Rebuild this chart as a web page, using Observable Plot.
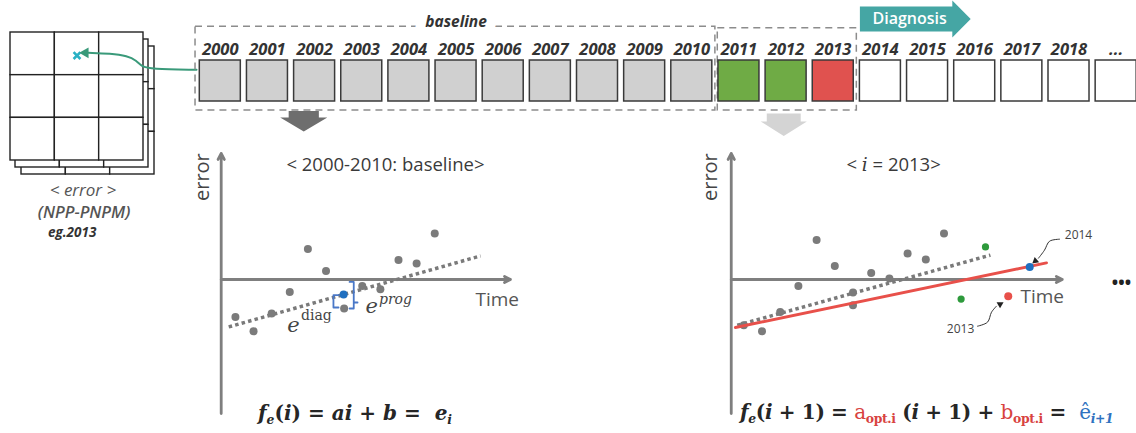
<!DOCTYPE html>
<html><head><meta charset="utf-8">
<script src="https://cdn.jsdelivr.net/npm/d3@7"></script>
<script src="https://cdn.jsdelivr.net/npm/@observablehq/plot@0.6"></script>
<style>
html,body{margin:0;padding:0;background:#fff;}
#wrap{position:relative;width:1136px;height:433px;overflow:hidden;font-family:"Open Sans",sans-serif;background:#fff;}
#wrap svg{position:absolute;left:0;top:0;}
.formula{position:absolute;font-family:"DejaVu Serif",serif;font-size:20px;line-height:22px;white-space:nowrap;color:#262626;font-weight:bold;}
.formula sub{font-size:0.62em;vertical-align:-0.32em;line-height:0;}
.formula .r{color:#d8433f;font-weight:normal;}
.formula .r sub{font-weight:bold;}
.formula .b{color:#2e72c0;font-weight:normal;}
.formula .b sub{font-weight:bold;font-style:italic;}
</style></head><body><div id="wrap"></div>
<script>
// ---------- DATA ----------
const years = ["2000","2001","2002","2003","2004","2005","2006","2007","2008","2009","2010","2011","2012","2013","2014","2015","2016","2017","2018","..."];
const yearStatus = ["baseline","baseline","baseline","baseline","baseline","baseline","baseline","baseline","baseline","baseline","baseline","normal","normal","anomaly","future","future","future","future","future","future"];
const gridCols = [0, 1, 2];
const gridRows = [0, 1, 2];
const markedCell = {c: 1, r: 0};
const gridCaption = ["< error >", "(NPP-PNPM)", "eg.2013"];

// baseline panel (2000-2010)
const baselineTimes = [1, 2, 3, 4, 5, 6, 7, 8, 9, 10, 11, 12];
const baselineErrors = [-1.87, -2.59, -1.70, -0.62, 1.52, 0.42, -1.45, -0.32, -0.49, 0.97, 0.80, 2.30];
const baselineTrendT = [0.63, 14.53];
const baselineTrendE = [-2.37, 1.18];
const baselinePred = {t: 6.97, e: -0.75};

// i = 2013 panel
const diagTimes = [1, 2, 3, 4, 5, 6, 7, 7, 8, 9, 10, 11, 12];
const diagErrors = [-2.29, -2.59, -1.62, -0.32, 1.97, 0.67, -0.65, -1.29, 0.33, 0.05, 1.30, 1.00, 2.30];
const normalT = [14.28, 12.94];
const normalE = [1.63, -0.98];
const anomaly = {t: 15.53, e: -0.84};
const forecast = {t: 16.71, e: 0.63};
const diagTrendT = [0.64, 14.55];
const diagTrendE = [-2.29, 1.22];
const optFitT = [0.54, 17.63];
const optFitE = [-2.40, 0.83];

// ---------- STYLES ----------
const statusFill = {baseline: "#d0d0d0", normal: "#6fab45", anomaly: "#e0524f", future: "#ffffff"};
const base = {width: 1136, height: 433, margin: 0,
  style: {background: "transparent", overflow: "visible", fontFamily: "'Open Sans', sans-serif"}};
const wrap = document.getElementById("wrap");
const K = v => () => v;
const dotted = {stroke: "#7a7a7a", strokeWidth: 3.5, strokeDasharray: "3.5,3.2", strokeLinecap: "butt"};

// ---------- LEFT GRID ----------
const gridCells = [];
for (const r of gridRows) for (const c of gridCols) gridCells.push({c, r});
const layers = [[11, 14], [5, 7], [0, 0]];
const linkPath = [[4.196, 0.874], [3.158, 0.855], [2.955, 0.797], [2.842, 0.656], [2.639, 0.551], [2.256, 0.492], [1.76, 0.476]];
const gridPlot = Plot.plot({
  ...base,
  x: {domain: [0, 3], range: [10, 143], axis: null},
  y: {domain: [0, 3], range: [32, 160], axis: null},
  marks: [
    ...layers.map(([dx, dy]) => Plot.rect(gridCells, {x1: d => d.c, x2: d => d.c + 1, y1: d => d.r, y2: d => d.r + 1,
      fill: "white", stroke: "#222", strokeWidth: 1.4, dx, dy})),
    Plot.dot([markedCell], {x: d => d.c + 0.5, y: d => d.r + 0.54, symbol: "times", r: 3.2, stroke: "#29b1c4", strokeWidth: 2.6}),
    Plot.line(linkPath, {x: d => d[0], y: d => d[1], curve: "basis", stroke: "#3a9a7a", strokeWidth: 2}),
    Plot.dot([linkPath[linkPath.length - 1]], {x: d => d[0] - 0.07, y: d => d[1], symbol: "triangle", r: 4, fill: "#3a9a7a", rotate: -90}),
    Plot.text([gridCaption[0]], {x: K(1.635), y: K(3.70), text: d => d, fontSize: 17, fontStyle: "italic", fill: "#555"}),
    Plot.text([gridCaption[1]], {x: K(1.66), y: K(4.22), text: d => d, fontSize: 16.5, fontStyle: "italic", fontWeight: 600, fill: "#555"}),
    Plot.text([gridCaption[2]], {x: K(1.39), y: K(4.70), text: d => d, fontSize: 13.5, fontStyle: "italic", fontWeight: "bold", fill: "#333"})
  ]
});
wrap.appendChild(gridPlot);

// ---------- YEAR STRIP ----------
const cells = years.map((year, i) => ({i, year, status: yearStatus[i]}));
const windows = [{first: 0, last: 10, label: "baseline"}, {first: 11, last: 13, label: ""}];
const diagStart = years.indexOf("2014");
const diagArrow = [[0, 6], [1.96, 6], [1.96, 0], [2.35, 18.5], [1.96, 37], [1.96, 31], [0, 31]]
  .map(([dx, y]) => ({x: diagStart - 0.435 + dx, y}));
const downArrow = (c, top, neck, tip, shaft, head) => [
  {x: c - shaft, y: top}, {x: c + shaft, y: top}, {x: c + shaft, y: neck}, {x: c + head, y: neck},
  {x: c, y: tip}, {x: c - head, y: neck}, {x: c - shaft, y: neck}, {x: c - shaft, y: top}];
const stripPlot = Plot.plot({
  ...base,
  x: {domain: [-0.5, 19.5], range: [196.23, 1139.23], axis: null},
  y: {domain: [0, 433], range: [0, 433], axis: null},
  marks: [
    Plot.rect([windows[0]], {x1: d => d.first - 0.5, x2: d => d.last + 0.5, y1: K(26.3), y2: K(110), insetLeft: -1.2,
      fill: "none", stroke: "#8c8c8c", strokeWidth: 1.5, strokeDasharray: "7,5"}),
    Plot.rect([windows[1]], {x1: d => d.first - 0.5, x2: d => d.last + 0.5, y1: K(27.7), y2: K(110), insetLeft: 2.4,
      fill: "none", stroke: "#8c8c8c", strokeWidth: 1.5, strokeDasharray: "7,5"}),
    Plot.text([windows[0]], {x: d => (d.first + d.last) / 2, y: K(22), text: "label", fontSize: 15.5, fontStyle: "italic",
      fontWeight: "bold", fill: "#333", stroke: "white", strokeWidth: 20}),
    Plot.rect(cells, {x1: d => d.i - 0.5, x2: d => d.i + 0.5, y1: K(60), y2: K(101), insetLeft: 3.07, insetRight: 3.07,
      fill: d => statusFill[d.status], stroke: "#3a3a3a", strokeWidth: 1.5}),
    Plot.text(cells, {x: "i", y: K(49), text: "year", fontSize: 16.5, fontStyle: "italic", fontWeight: "bold", fill: "#333"}),
    Plot.line(diagArrow, {x: "x", y: "y", fill: "#45a6a4", stroke: null}),
    Plot.text(["Diagnosis"], {x: K(diagStart + 0.62), y: K(18), text: d => d, fontSize: 16, fontWeight: 600, fill: "white"}),
    Plot.line(downArrow(1.77, 110.5, 117, 131, 0.32, 0.5), {x: "x", y: "y", fill: "#6e6e6e", stroke: null}),
    Plot.line(downArrow(11.95, 113, 121, 135.5, 0.36, 0.49), {x: "x", y: "y", fill: "#d4d4d4", stroke: null})
  ]
});
wrap.appendChild(stripPlot);

// ---------- PANELS ----------
const panelY = {domain: [-6.7, 6.3], range: [413, 153], axis: null};
const axisStyle = {x1: "x1", y1: "y1", x2: "x2", y2: "y2", stroke: "#7f7f7f", strokeWidth: 2.8, headLength: 3.6, headAngle: 55};

const leftAxisT = 0.215;
const leftPlot = Plot.plot({
  ...base,
  x: {domain: [0, 20], range: [216.8, 216.8 + 18.12 * 20], axis: null},
  y: panelY,
  marks: [
    Plot.arrow([{x1: leftAxisT, y1: -6.7, x2: leftAxisT, y2: 6.3}, {x1: leftAxisT, y1: 0, x2: 16.18, y2: 0}], axisStyle),
    Plot.line(baselineTrendT, {x: d => d, y: (d, i) => baselineTrendE[i], ...dotted}),
    Plot.dot(baselineTimes, {x: d => d, y: (d, i) => baselineErrors[i], r: 4, fill: "#7b7b7b"}),
    Plot.dot([baselinePred], {x: "t", y: "e", r: 4, fill: "#1f6fc0"}),
    Plot.line([[6.69, -0.785], [6.41, -0.785], [6.41, -1.40], [6.69, -1.40]], {x: d => d[0], y: d => d[1], stroke: "#4a78c8", strokeWidth: 1.8}),
    Plot.line([[7.30, -0.12], [7.53, -0.12], [7.53, -1.15], [7.74, -1.15], [7.53, -1.15], [7.53, -1.45], [7.30, -1.45]], {x: d => d[0], y: d => d[1], stroke: "#4a78c8", strokeWidth: 1.8}),
    Plot.text(["e"], {x: K(3.86), y: K(-2.3), text: d => d, textAnchor: "start", fontSize: 21, fontStyle: "italic", fontFamily: "DejaVu Serif", fill: "#444"}),
    Plot.text(["diag"], {x: K(4.62), y: K(-1.82), text: d => d, textAnchor: "start", fontSize: 14, fontFamily: "DejaVu Serif", fill: "#444"}),
    Plot.text(["e"], {x: K(8.18), y: K(-1.36), text: d => d, textAnchor: "start", fontSize: 21, fontStyle: "italic", fontFamily: "DejaVu Serif", fill: "#444"}),
    Plot.text(["prog"], {x: K(8.92), y: K(-1.02), text: d => d, textAnchor: "start", fontSize: 14, fontStyle: "italic", fontFamily: "DejaVu Serif", fill: "#444"}),
    Plot.text(["Time"], {x: K(14.25), y: K(-1.04), text: d => d, textAnchor: "start", fontSize: 19, fill: "#555"}),
    Plot.text(["< 2000-2010: baseline>"], {x: K(9.28), y: K(5.72), text: d => d, fontSize: 18.5, fill: "#3a3a3a"}),
    Plot.text(["error"], {x: K(-0.83), y: K(5.12), text: d => d, rotate: -90, fontSize: 20, fill: "#444"})
  ]
});
wrap.appendChild(leftPlot);

const rightAxisT = 0.31;
const rightPlot = Plot.plot({
  ...base,
  x: {domain: [0, 20], range: [725.1, 725.1 + 18.2 * 20], axis: null},
  y: panelY,
  marks: [
    Plot.arrow([{x1: rightAxisT, y1: -6.7, x2: rightAxisT, y2: 6.3}, {x1: rightAxisT, y1: 0, x2: 18.5, y2: 0}], axisStyle),
    Plot.line(diagTrendT, {x: d => d, y: (d, i) => diagTrendE[i], ...dotted}),
    Plot.dot(diagTimes, {x: d => d, y: (d, i) => diagErrors[i], r: 4, fill: "#7b7b7b"}),
    Plot.line(optFitT, {x: d => d, y: (d, i) => optFitE[i], stroke: "#e8504a", strokeWidth: 3}),
    Plot.dot(normalT, {x: d => d, y: (d, i) => normalE[i], r: 3.6, fill: "#2e9a3c"}),
    Plot.dot([anomaly], {x: "t", y: "e", r: 4, fill: "#e8504a"}),
    Plot.dot([forecast], {x: "t", y: "e", r: 4, fill: "#1f6fc0"}),
    Plot.line([[18.35, 2.015], [17.8, 1.915], [17.52, 1.465], [17.19, 1.065]], {x: d => d[0], y: d => d[1], curve: "catmull-rom", stroke: "#333", strokeWidth: 1}),
    Plot.dot([[17.02, 0.93]], {x: d => d[0], y: d => d[1], symbol: "triangle", r: 2.6, fill: "#222", rotate: -130}),
    Plot.line([[13.84, -2.335], [14.39, -2.135], [14.61, -1.635], [14.88, -1.335]], {x: d => d[0], y: d => d[1], curve: "catmull-rom", stroke: "#333", strokeWidth: 1}),
    Plot.dot([[15.08, -1.24]], {x: d => d[0], y: d => d[1], symbol: "triangle", r: 2.6, fill: "#222", rotate: 60}),
    Plot.text(["2014"], {x: K(19.39), y: K(2.215), text: d => d, fontSize: 12, fill: "#444"}),
    Plot.text(["2013"], {x: K(12.91), y: K(-2.5), text: d => d, fontSize: 12, fill: "#444"}),
    Plot.text(["Time"], {x: K(16.2), y: K(-0.87), text: d => d, textAnchor: "start", fontSize: 19, fill: "#555"}),
    Plot.text(["< i = 2013>"], {x: K(9.23), y: K(5.72), text: d => d, fontSize: 18.5, fill: "#3a3a3a"}),
    Plot.text(["error"], {x: K(-0.83), y: K(5.12), text: d => d, rotate: -90, fontSize: 20, fill: "#444"}),
    Plot.text(["•••"], {x: K(21.75), y: K(-0.19), text: d => d, fontSize: 17, fontWeight: "bold", fill: "#222"})
  ]
});
wrap.appendChild(rightPlot);

// italic "i" in the panel title
d3.select(rightPlot).selectAll("text").filter(function () { return this.textContent === "< i = 2013>"; })
  .each(function () {
    const t = d3.select(this); t.text(null);
    t.append("tspan").text("< ");
    t.append("tspan").attr("font-family", "DejaVu Serif").attr("font-style", "italic").text("i");
    t.append("tspan").text(" = 2013>");
  });

// ---------- FORMULAS ----------
const f1 = document.createElement("div");
f1.className = "formula"; f1.style.left = "258px"; f1.style.top = "402px";
f1.innerHTML = "<i>f<sub>e</sub></i>(<i>i</i>) = <i>ai</i> + <i>b</i> =&nbsp; <i>e<sub>i</sub></i>";
wrap.appendChild(f1);
const f2 = document.createElement("div");
f2.className = "formula"; f2.style.left = "740px"; f2.style.top = "401px"; f2.style.letterSpacing = "-0.35px";
f2.innerHTML = "<i>f<sub>e</sub></i>(<i>i</i> + 1) = <span class='r'>a<sub>opt.i</sub></span> (<i>i</i> + 1) + <span class='r'>b<sub>opt.i</sub></span> =&nbsp; <span class='b'>ê<sub>i+1</sub></span>";
wrap.appendChild(f2);
</script></body></html>
